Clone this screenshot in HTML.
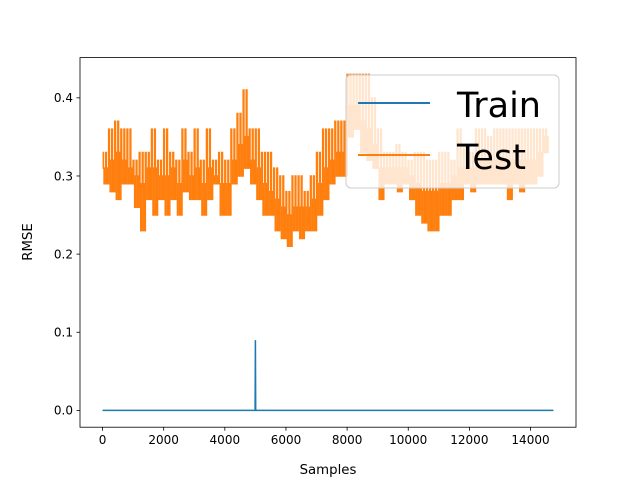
<!DOCTYPE html>
<html><head><meta charset="utf-8"><style>
html,body{margin:0;padding:0;background:#fff;}
svg{display:block;font-family:"DejaVu Sans","Liberation Sans",sans-serif;}
</style></head><body>
<svg id="chart" width="640" height="480" viewBox="0 0 640 480">
<rect x="0" y="0" width="640" height="480" fill="#fff"/>
<g id="plot"></g>
<rect x="80" y="57.6" width="496" height="369.6" fill="none" stroke="#000" stroke-width="0.8"/>
<g id="axes"></g>
<text x="328" y="474" text-anchor="middle" font-size="13.3">Samples</text>
<text x="0" y="0" transform="translate(32,242) rotate(-90)" text-anchor="middle" font-size="13.3">RMSE</text>
<g>
<rect x="346" y="75" width="213" height="113" rx="5" fill="#fff" fill-opacity="0.8" stroke="#ccc" stroke-width="1"/>
<line x1="358" y1="103" x2="430" y2="103" stroke="#1f77b4" stroke-width="2"/>
<text x="457" y="117" font-size="35">Train</text>
<line x1="358" y1="155" x2="430" y2="155" stroke="#ff7f0e" stroke-width="2"/>
<text x="457" y="169" font-size="35">Test</text>
</g>
</svg>
<script>
const binStart = [0,200,400,600,800,1000,1200,1400,1600,1800,2000,2200,2400,2600,2800,3000,3200,3400,3600,3800,4000,4200,4400,4600,4800,5000,5200,5400,5600,5800,6000,6200,6400,6600,6800,7000,7200,7400,7600,7800,8000,8200,8400,8600,8800,9000,9200,9400,9600,9800,10000,10200,10400,10600,10800,11000,11200,11400,11600,11800,12000,12200,12400,12600,12800,13000,13200,13400,13600,13800,14000,14200,14400];
const testHigh = [0.33,0.36,0.37,0.36,0.36, 0.32,0.33,0.33,0.36,0.32, 0.36,0.33,0.32,0.36,0.33, 0.36,0.32,0.36,0.32,0.33, 0.32,0.36,0.38,0.41,0.36, 0.36,0.33,0.33,0.31,0.30, 0.28,0.30,0.30,0.28,0.30, 0.33,0.36,0.36,0.37,0.37, 0.43,0.43,0.43,0.43,0.40, 0.36,0.33,0.33,0.34,0.33, 0.32,0.33,0.33,0.32,0.32, 0.33,0.33,0.32,0.36,0.34, 0.33,0.36,0.36,0.35,0.36, 0.36,0.36,0.36,0.36,0.36, 0.36,0.36,0.36];
const testMid = [0.31,0.32,0.33,0.32,0.31, 0.30,0.29,0.31,0.31,0.30, 0.30,0.31,0.29,0.32,0.30, 0.31,0.29,0.31,0.30,0.29, 0.29,0.32,0.34,0.35,0.32, 0.31,0.29,0.28,0.27,0.26, 0.25,0.26,0.26,0.26,0.27, 0.29,0.31,0.32,0.33,0.33, 0.39,0.39,0.37,0.36,0.34, 0.31,0.31,0.31,0.31,0.31, 0.30,0.29,0.28,0.28,0.28, 0.29,0.29,0.30,0.31,0.31, 0.31,0.32,0.32,0.32,0.32, 0.32,0.32,0.32,0.32,0.32, 0.32,0.33,0.35];
const testLow = [0.29,0.28,0.27,0.29,0.29, 0.26,0.23,0.27,0.25,0.27, 0.25,0.27,0.25,0.28,0.27, 0.27,0.25,0.27,0.29,0.25, 0.25,0.29,0.30,0.31,0.29, 0.27,0.25,0.25,0.23,0.22, 0.21,0.23,0.22,0.23,0.23, 0.25,0.27,0.29,0.30,0.30, 0.35,0.36,0.33,0.32,0.31, 0.27,0.29,0.29,0.28,0.29, 0.27,0.25,0.24,0.23,0.23, 0.25,0.25,0.27,0.27,0.29, 0.28,0.29,0.29,0.29,0.29, 0.29,0.27,0.29,0.28,0.29, 0.29,0.30,0.33];
const trainX = [0,4990,5000,5010,14750];
const trainY = [0,0,0.09,0,0];
const xTicks = [0,2000,4000,6000,8000,10000,12000,14000];
const yTicks = [0.0,0.1,0.2,0.3,0.4];
const yTickLabels = ["0.0","0.1","0.2","0.3","0.4"];

const NS="http://www.w3.org/2000/svg";
const X0=80,X1=576,Y0=57.6,Y1=427.2;
const xmin=-737.5,xmax=15487.5,ymin=-0.0215,ymax=0.4515;
function sx(v){return X0+(v-xmin)/(xmax-xmin)*(X1-X0);}
function sy(v){return Y1-(v-ymin)/(ymax-ymin)*(Y1-Y0);}
const plot=document.getElementById('plot');
const axes=document.getElementById('axes');

// test series: within each bin cycle high, mid, low, mid
let pts=[];
const steps=8;
for(let i=0;i<binStart.length;i++){
  const seq=[testHigh[i],testMid[i],testLow[i],testMid[i],testHigh[i],testLow[i],testMid[i],testLow[i]];
  for(let k=0;k<steps;k++){
    const s=binStart[i]+k*200/steps;
    pts.push(sx(s).toFixed(2)+","+sy(seq[k]).toFixed(2));
    pts.push(sx(s+200/steps).toFixed(2)+","+sy(seq[k]).toFixed(2));
  }
}
const tl=document.createElementNS(NS,'polyline');
tl.setAttribute('points',pts.join(' '));
tl.setAttribute('fill','none');tl.setAttribute('stroke','#ff7f0e');tl.setAttribute('stroke-width','1.5');


plot.appendChild(tl);

// train series
const tr=document.createElementNS(NS,'polyline');
tr.setAttribute('points',trainX.map((x,i)=>sx(x).toFixed(2)+","+sy(trainY[i]).toFixed(2)).join(' '));
tr.setAttribute('fill','none');tr.setAttribute('stroke','#1f77b4');tr.setAttribute('stroke-width','1.5');


plot.appendChild(tr);

xTicks.forEach(t=>{
  const x=sx(t);
  const l=document.createElementNS(NS,'line');
  l.setAttribute('x1',x);l.setAttribute('x2',x);l.setAttribute('y1',Y1);l.setAttribute('y2',Y1+3.5);
  l.setAttribute('stroke','#000');l.setAttribute('stroke-width','0.8');
  
  
  axes.appendChild(l);
  const tx=document.createElementNS(NS,'text');
  tx.setAttribute('x',x);tx.setAttribute('y',Y1+17);tx.setAttribute('text-anchor','middle');tx.setAttribute('font-size','12');
  tx.textContent=String(t);
  
  
  axes.appendChild(tx);
});
yTicks.forEach((t,i)=>{
  const y=sy(t);
  const l=document.createElementNS(NS,'line');
  l.setAttribute('x1',X0-3.5);l.setAttribute('x2',X0);l.setAttribute('y1',y);l.setAttribute('y2',y);
  l.setAttribute('stroke','#000');l.setAttribute('stroke-width','0.8');
  
  
  axes.appendChild(l);
  const tx=document.createElementNS(NS,'text');
  tx.setAttribute('x',X0-7);tx.setAttribute('y',y+4.3);tx.setAttribute('text-anchor','end');tx.setAttribute('font-size','12');
  tx.textContent=yTickLabels[i];
  
  
  axes.appendChild(tx);
});
</script>
</body></html>
